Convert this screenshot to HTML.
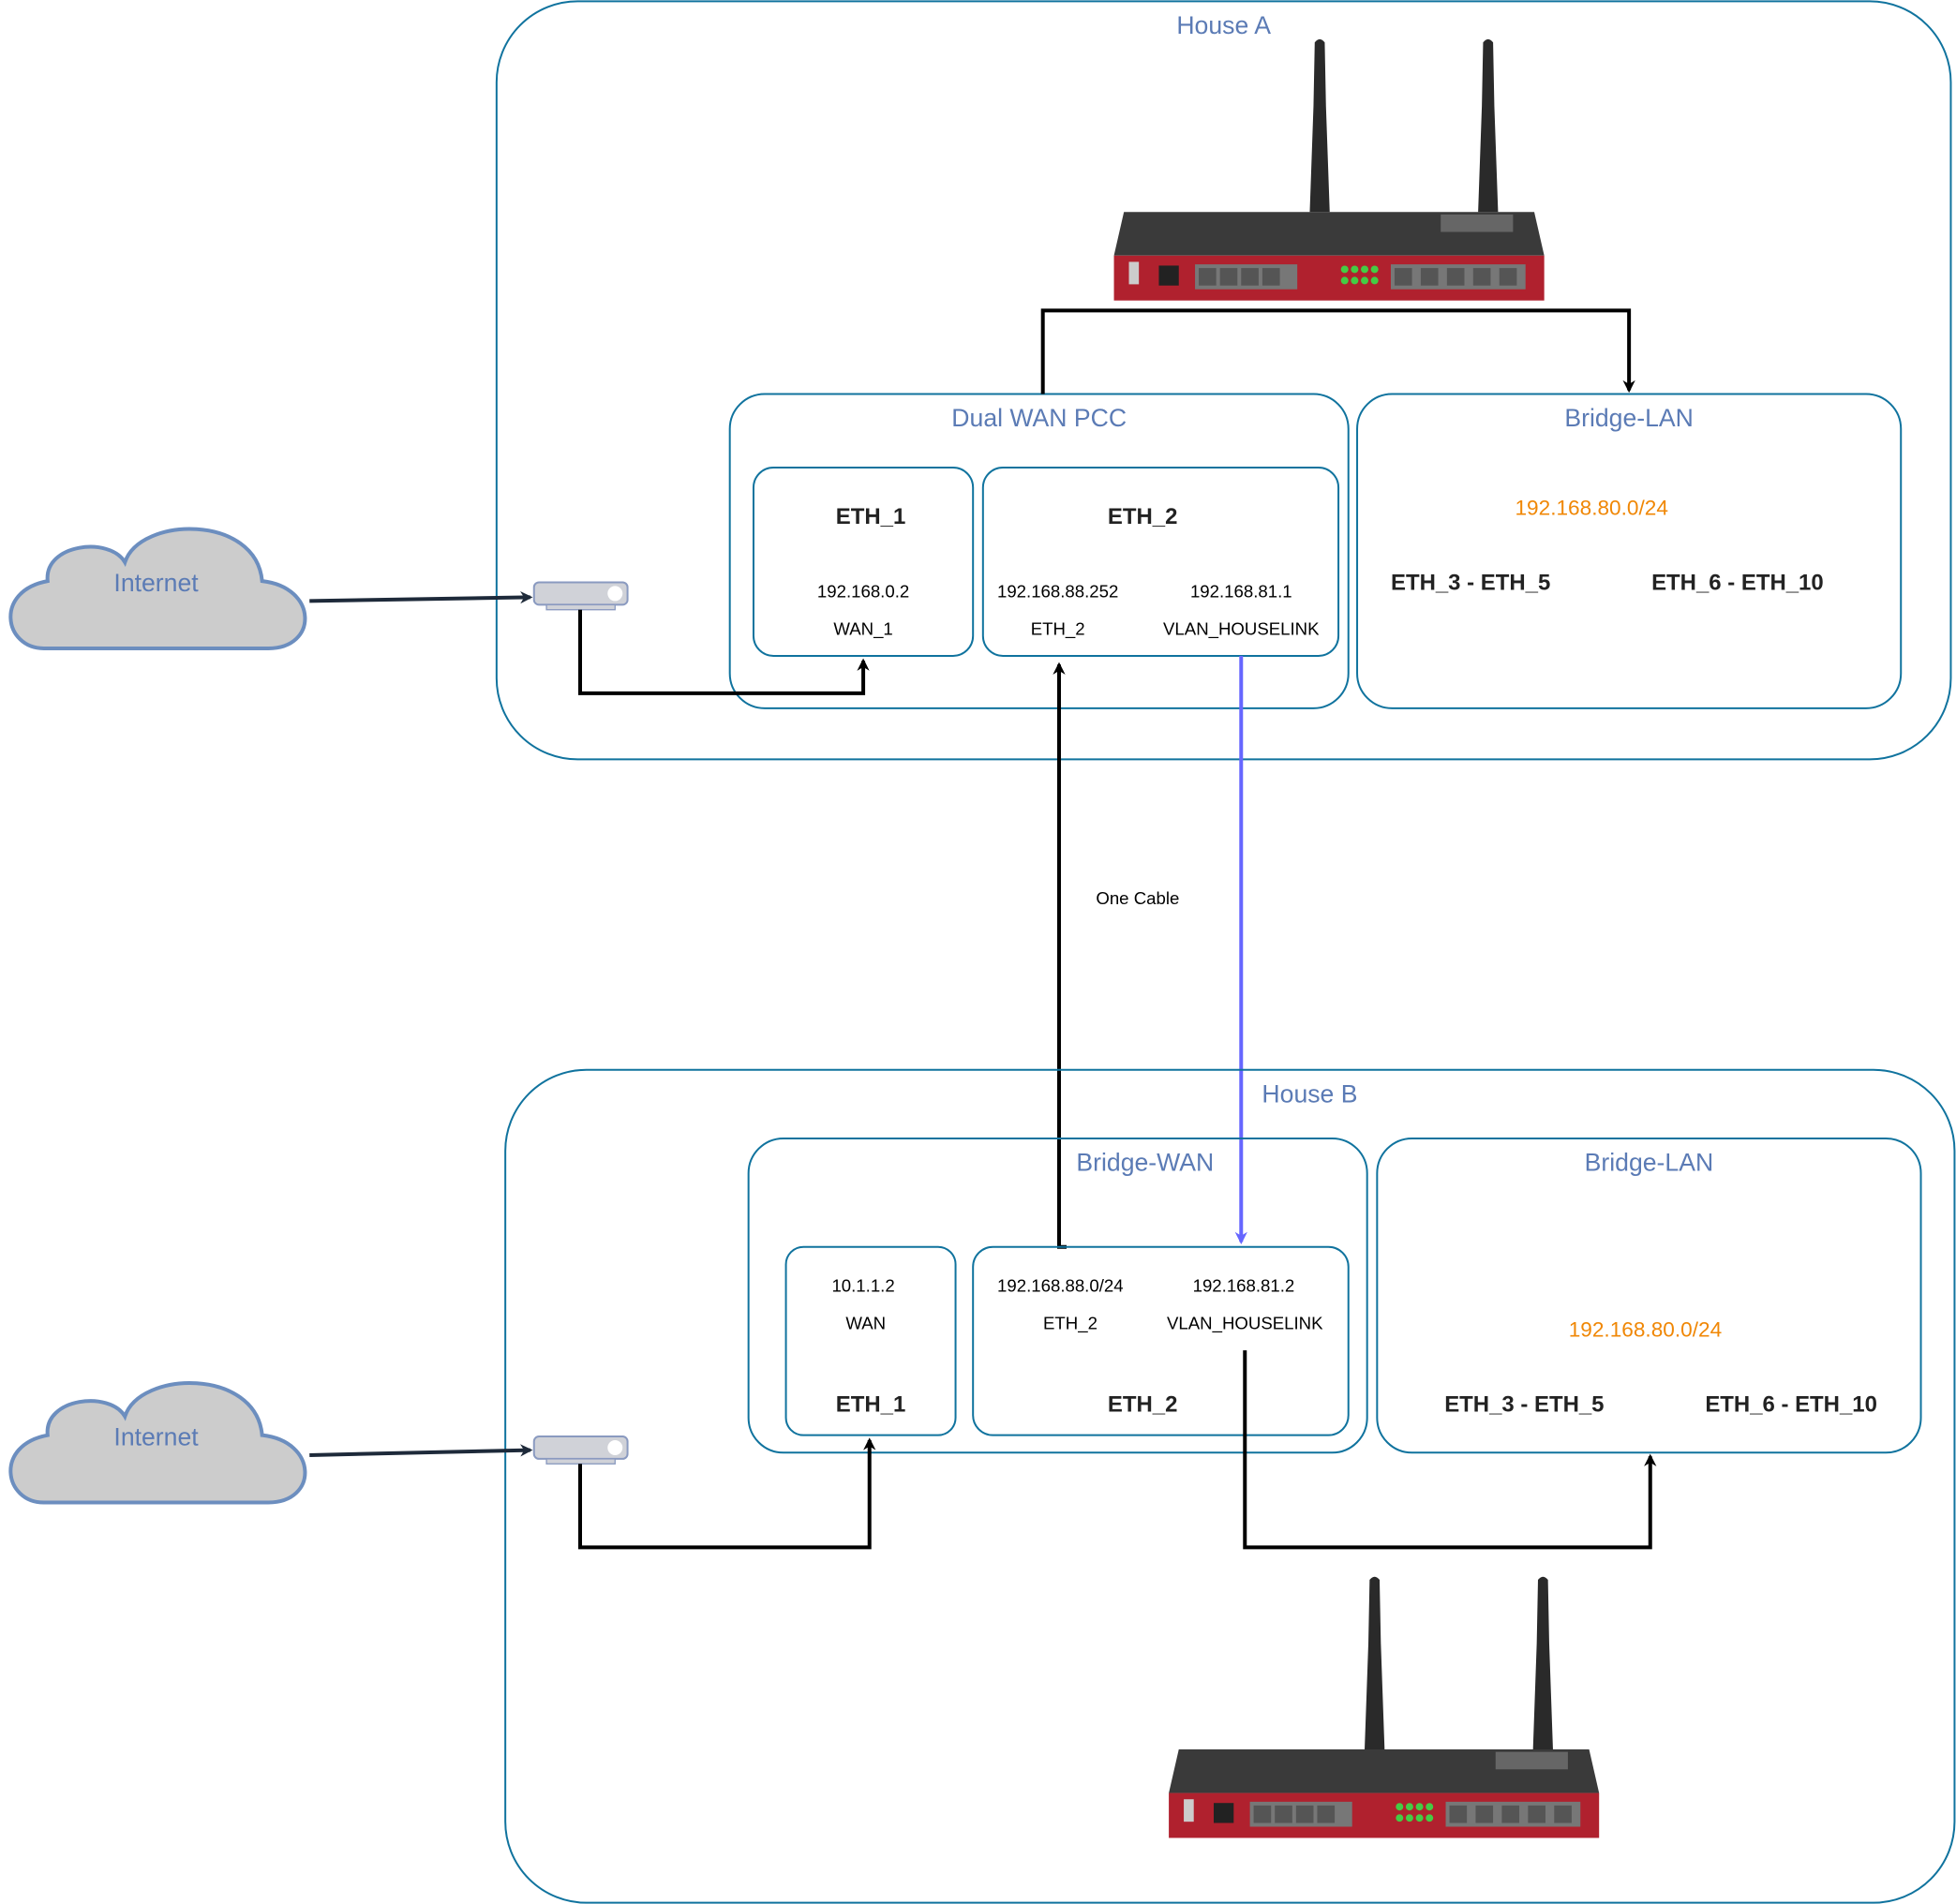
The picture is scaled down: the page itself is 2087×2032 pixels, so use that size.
<!DOCTYPE html>
<html><head><meta charset="utf-8"><style>html,body{margin:0;padding:0;background:#fff}svg{display:block}</style></head>
<body>
<svg width="2087" height="2032" viewBox="0 0 1568 1527" xmlns="http://www.w3.org/2000/svg" font-family="Liberation Sans, sans-serif">
<defs>
<marker id="ab" markerWidth="10" markerHeight="10" refX="8" refY="5" orient="auto" markerUnits="userSpaceOnUse"><path d="M0,0 L10,5 L0,10 L3,5z" fill="#000"/></marker>
<marker id="ad" markerWidth="10" markerHeight="10" refX="8" refY="5" orient="auto" markerUnits="userSpaceOnUse"><path d="M0,0 L10,5 L0,10 L3,5z" fill="#1e2a3a"/></marker>
<marker id="ap" markerWidth="10" markerHeight="10" refX="8" refY="5" orient="auto" markerUnits="userSpaceOnUse"><path d="M0,0 L10,5 L0,10 L3,5z" fill="#6666ff"/></marker>
<g id="router">
<path d="M161,4 Q165,-1 169,4 L170,55 L173,140 L157,140 L160,55 Z" fill="#2a2a2a"/>
<path d="M296,4 Q300,-1 304,4 L305,55 L308,140 L292,140 L295,55 Z" fill="#2a2a2a"/>
<polygon points="8,140 337,140 345,175 0,175" fill="#3a3a3a"/>
<rect x="262" y="142" width="58" height="14" fill="#666"/>
<rect x="0" y="175" width="345" height="36" fill="#b0212e"/>
<g fill="#777"><rect x="65" y="182" width="82" height="20"/><rect x="222" y="182" width="108" height="20"/></g>
<g fill="#555"><rect x="68" y="185" width="14" height="14"/><rect x="85" y="185" width="14" height="14"/><rect x="102" y="185" width="14" height="14"/><rect x="119" y="185" width="14" height="14"/><rect x="225" y="185" width="14" height="14"/><rect x="246" y="185" width="14" height="14"/><rect x="267" y="185" width="14" height="14"/><rect x="288" y="185" width="14" height="14"/><rect x="309" y="185" width="14" height="14"/></g>
<rect x="36" y="183" width="16" height="16" fill="#222"/>
<rect x="12" y="180" width="8" height="18" fill="#ccc"/>
<g fill="#4c4"><circle cx="185" cy="186" r="3"/><circle cx="193" cy="186" r="3"/><circle cx="201" cy="186" r="3"/><circle cx="209" cy="186" r="3"/><circle cx="185" cy="195" r="3"/><circle cx="193" cy="195" r="3"/><circle cx="201" cy="195" r="3"/><circle cx="209" cy="195" r="3"/></g>
</g>
<g id="sw">
<rect x="0" y="0" width="75" height="18" rx="4" fill="#d0d2d8" stroke="#8a9ac0" stroke-width="1.5"/>
<rect x="10" y="18" width="55" height="4" fill="#d0d2d8" stroke="#8a9ac0" stroke-width="1"/>
<circle cx="65" cy="9" r="6" fill="#fff"/>
</g>
<g id="cloud">
<path d="M35,104 C3,104 -5,58 38,50 C35,20 88,14 100,35 C112,-2 205,-4 210,50 C255,55 255,104 215,104 Z" fill="#cccccc" stroke="#6c8ebf" stroke-width="3"/>
</g>
</defs>

<!-- House A -->
<rect x="398" y="1" width="1166" height="608" rx="65" fill="none" stroke="#10739e" stroke-width="1.5"/>
<text x="981" y="27" font-size="20" fill="#5b7bb5" text-anchor="middle">House A</text>
<use href="#router" x="893" y="30"/>

<rect x="585" y="316" width="496" height="252" rx="28" fill="none" stroke="#10739e" stroke-width="1.5"/>
<text x="833" y="342" font-size="20" fill="#5b7bb5" text-anchor="middle">Dual WAN PCC</text>
<rect x="604" y="375" width="176" height="151" rx="16" fill="none" stroke="#10739e" stroke-width="1.5"/>
<text x="698" y="420" font-size="18" font-weight="bold" fill="#222" text-anchor="middle">ETH_1</text>
<text x="692" y="479" font-size="14" text-anchor="middle">192.168.0.2</text>
<text x="692" y="509" font-size="14" text-anchor="middle">WAN_1</text>
<rect x="788" y="375" width="285" height="151" rx="16" fill="none" stroke="#10739e" stroke-width="1.5"/>
<text x="916" y="420" font-size="18" font-weight="bold" fill="#222" text-anchor="middle">ETH_2</text>
<text x="848" y="479" font-size="14" text-anchor="middle">192.168.88.252</text>
<text x="848" y="509" font-size="14" text-anchor="middle">ETH_2</text>
<text x="995" y="479" font-size="14" text-anchor="middle">192.168.81.1</text>
<text x="995" y="509" font-size="14" text-anchor="middle">VLAN_HOUSELINK</text>

<rect x="1088" y="316" width="436" height="252" rx="28" fill="none" stroke="#10739e" stroke-width="1.5"/>
<text x="1306" y="342" font-size="20" fill="#5b7bb5" text-anchor="middle">Bridge-LAN</text>
<text x="1276" y="413" font-size="17" fill="#f08705" text-anchor="middle">192.168.80.0/24</text>
<text x="1179" y="473" font-size="18" font-weight="bold" fill="#222" text-anchor="middle">ETH_3 - ETH_5</text>
<text x="1393" y="473" font-size="18" font-weight="bold" fill="#222" text-anchor="middle">ETH_6 - ETH_10</text>

<use href="#cloud" x="0" y="416"/>
<text x="125" y="474" font-size="20" fill="#5b7bb5" text-anchor="middle">Internet</text>
<use href="#sw" x="428" y="467"/>
<path d="M248,482 L425,479" stroke="#1e2a3a" stroke-width="3" fill="none" marker-end="url(#ad)"/>
<path d="M465,489 L465,556 L692,556 L692,530" stroke="#000" stroke-width="3" fill="none" marker-end="url(#ab)"/>
<path d="M836,316 L836,249 L1306,249 L1306,313" stroke="#000" stroke-width="3" fill="none" marker-end="url(#ab)"/>

<!-- cables -->
<path d="M855,1000 L849,1000 L849,533" stroke="#000" stroke-width="3" fill="none" marker-end="url(#ab)"/>
<path d="M995,526 L995,996" stroke="#6666ff" stroke-width="3" fill="none" marker-end="url(#ap)"/>
<text x="912" y="725" font-size="14" text-anchor="middle">One Cable</text>

<!-- House B -->
<rect x="405" y="858" width="1162" height="668" rx="65" fill="none" stroke="#10739e" stroke-width="1.5"/>
<text x="1050" y="884" font-size="20" fill="#5b7bb5" text-anchor="middle">House B</text>

<rect x="600" y="913" width="496" height="252" rx="28" fill="none" stroke="#10739e" stroke-width="1.5"/>
<text x="918" y="939" font-size="20" fill="#5b7bb5" text-anchor="middle">Bridge-WAN</text>
<rect x="630" y="1000" width="136" height="151" rx="14" fill="none" stroke="#10739e" stroke-width="1.5"/>
<text x="692" y="1036" font-size="14" text-anchor="middle">10.1.1.2</text>
<text x="694" y="1066" font-size="14" text-anchor="middle">WAN</text>
<text x="698" y="1132" font-size="18" font-weight="bold" fill="#222" text-anchor="middle">ETH_1</text>
<rect x="780" y="1000" width="301" height="151" rx="16" fill="none" stroke="#10739e" stroke-width="1.5"/>
<text x="850" y="1036" font-size="14" text-anchor="middle">192.168.88.0/24</text>
<text x="858" y="1066" font-size="14" text-anchor="middle">ETH_2</text>
<text x="997" y="1036" font-size="14" text-anchor="middle">192.168.81.2</text>
<text x="998" y="1066" font-size="14" text-anchor="middle">VLAN_HOUSELINK</text>
<text x="916" y="1132" font-size="18" font-weight="bold" fill="#222" text-anchor="middle">ETH_2</text>

<rect x="1104" y="913" width="436" height="252" rx="28" fill="none" stroke="#10739e" stroke-width="1.5"/>
<text x="1322" y="939" font-size="20" fill="#5b7bb5" text-anchor="middle">Bridge-LAN</text>
<text x="1319" y="1072" font-size="17" fill="#f08705" text-anchor="middle">192.168.80.0/24</text>
<text x="1222" y="1132" font-size="18" font-weight="bold" fill="#222" text-anchor="middle">ETH_3 - ETH_5</text>
<text x="1436" y="1132" font-size="18" font-weight="bold" fill="#222" text-anchor="middle">ETH_6 - ETH_10</text>

<use href="#cloud" x="0" y="1101"/>
<text x="125" y="1159" font-size="20" fill="#5b7bb5" text-anchor="middle">Internet</text>
<use href="#sw" x="428" y="1152"/>
<path d="M248,1167 L425,1163" stroke="#1e2a3a" stroke-width="3" fill="none" marker-end="url(#ad)"/>
<path d="M465,1174 L465,1241 L697,1241 L697,1155" stroke="#000" stroke-width="3" fill="none" marker-end="url(#ab)"/>
<path d="M998,1083 L998,1241 L1323,1241 L1323,1168" stroke="#000" stroke-width="3" fill="none" marker-end="url(#ab)"/>

<use href="#router" x="937" y="1263"/>
</svg>
</body></html>
